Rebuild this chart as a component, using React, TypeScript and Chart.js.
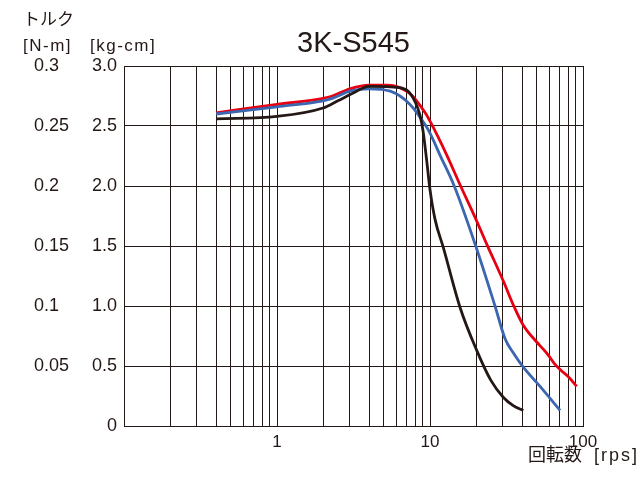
import React, { useEffect, useRef } from "react";
import { Chart, registerables } from "chart.js";

Chart.register(...registerables);

// ---------- data (torque in kg-cm vs speed in rps) ----------
const redX = [0.4, 1, 2, 2.3, 3.0, 4.0, 5.2, 6.0, 7.4, 9.3, 10, 12.85, 15.85, 20, 23.4, 30.1, 35, 40.7, 49.8, 55, 59.3, 65, 70.8, 80.2, 91];
const redY = [2.61, 2.68, 2.73, 2.75, 2.81, 2.84, 2.84, 2.83, 2.77, 2.61, 2.54, 2.26, 2.0, 1.72, 1.52, 1.21, 1.01, 0.84, 0.70, 0.64, 0.59, 0.52, 0.47, 0.41, 0.33];

const blueX = [0.4, 1, 2, 2.3, 3.0, 4.0, 5.5, 7.4, 9.3, 10, 11.6, 14.4, 19.9, 26.6, 30.9, 35, 40.7, 52.4, 70.8];
const blueY = [2.60, 2.66, 2.71, 2.73, 2.79, 2.81, 2.79, 2.68, 2.51, 2.44, 2.26, 2.0, 1.5, 1.0, 0.73, 0.61, 0.49, 0.33, 0.13];

const blackX = [0.4, 1, 2, 2.5, 3.1, 4.0, 6.3, 7.2, 8.0, 8.6, 9.0, 9.5, 10, 10.8, 12.2, 15.7, 20.2, 25, 30.1, 35, 40.7];
const blackY = [2.56, 2.58, 2.65, 2.71, 2.77, 2.83, 2.82, 2.79, 2.70, 2.59, 2.46, 2.22, 1.97, 1.72, 1.49, 0.99, 0.63, 0.38, 0.24, 0.17, 0.13];

// ---------- axes ----------
const xDecades = [0.1, 1, 10];
const xMultipliers = [1, 2, 3, 4, 5, 6, 7, 8, 9];
const xMax = 100;
const xTickLabels: Record<string, string> = { "1": "1", "10": "10", "100": "100" };

const yTickValues = [0, 0.5, 1.0, 1.5, 2.0, 2.5, 3.0];
const kgTickLabels = ["0", "0.5", "1.0", "1.5", "2.0", "2.5", "3.0"];
const nmTickLabels = ["", "0.05", "0.1", "0.15", "0.2", "0.25", "0.3"];

const TITLE = "3K-S545";
const Y_TITLE = "トルク";
const Y_UNIT_NM = "[N-m]";
const Y_UNIT_KG = "[kg-cm]";
const X_TITLE_JA = "回転数";
const X_TITLE_UNIT = "[rps]";

const FONT = "'Liberation Sans', 'Noto Sans CJK JP', sans-serif";
const INK = "#231815";
const RED = "#e60012";
const BLUE = "#3b66b0";
const BLACK = "#231815";

const xGridTicks: number[] = [];
xDecades.forEach((d) => xMultipliers.forEach((m) => xGridTicks.push(Math.round(d * m * 1000) / 1000)));
xGridTicks.push(xMax);

const toPoints = (xs: number[], ys: number[]) => xs.map((x, i) => ({ x, y: ys[i] }));

const textPlugin = {
  id: "extraText",
  afterDraw(chart: any) {
    const ctx = chart.ctx;
    const area = chart.chartArea;
    ctx.save();
    ctx.fillStyle = INK;
    ctx.textAlign = "center";
    ctx.textBaseline = "middle";
    ctx.font = `29px ${FONT}`;
    ctx.fillText(TITLE, (area.left + area.right) / 2, 44);
    ctx.textAlign = "left";
    ctx.font = `17px ${FONT}`;
    ctx.fillText(Y_TITLE, 23, 20);
    (ctx as any).letterSpacing = "1.5px";
    ctx.fillText(Y_UNIT_NM, 23, 46);
    ctx.fillText(Y_UNIT_KG, 90, 46);
    ctx.textAlign = "right";
    ctx.font = `18px ${FONT}`;
    (ctx as any).letterSpacing = "2px";
    ctx.fillText(X_TITLE_UNIT, 639, 456);
    (ctx as any).letterSpacing = "0px";
    ctx.fillText(X_TITLE_JA, 582, 456);
    ctx.restore();
  },
};

export default function App() {
  const ref = useRef<HTMLCanvasElement>(null);

  useEffect(() => {
    if (!ref.current) return;
    const lineDs = (label: string, xs: number[], ys: number[], color: string) => ({
      label,
      data: toPoints(xs, ys),
      borderColor: color,
      backgroundColor: color,
      borderWidth: 2.8,
      pointRadius: 0,
      fill: false,
      cubicInterpolationMode: "monotone" as const,
      yAxisID: "y",
    });
    const chart = new Chart(ref.current, {
      type: "line",
      data: {
        datasets: [
          lineDs("black", blackX, blackY, BLACK),
          lineDs("blue", blueX, blueY, BLUE),
          lineDs("red", redX, redY, RED),
        ],
      },
      options: {
        animation: false,
        responsive: false,
        maintainAspectRatio: false,
        layout: { padding: { left: 34, top: 66, right: 56, bottom: 0 } },
        plugins: {
          legend: { display: false },
          title: { display: false },
          tooltip: { enabled: false },
        },
        scales: {
          x: {
            type: "logarithmic",
            position: "bottom",
            min: 0.1,
            max: xMax,
            afterBuildTicks: (s: any) => {
              s.ticks = xGridTicks.map((v) => ({ value: v }));
            },
            afterFit: (s: any) => {
              s.height = 56;
            },
            grid: { color: INK, lineWidth: 1, drawTicks: false },
            border: { display: true, color: INK, width: 1 },
            ticks: {
              autoSkip: false,
              maxRotation: 0,
              minRotation: 0,
              padding: 6,
              color: INK,
              font: { family: FONT, size: 17 },
              callback: (v: any) => xTickLabels[String(v)] ?? "",
            },
          },
          y: {
            type: "linear",
            position: "left",
            weight: 0,
            min: 0,
            max: 3,
            afterBuildTicks: (s: any) => {
              s.ticks = yTickValues.map((v) => ({ value: v }));
            },
            afterFit: (s: any) => {
              s.width = 40;
            },
            grid: { color: INK, lineWidth: 1, drawTicks: false },
            border: { display: true, color: INK, width: 1 },
            ticks: {
              padding: 7,
              color: INK,
              font: { family: FONT, size: 18 },
              callback: (_v: any, i: number) => kgTickLabels[i],
            },
          },
          yNm: {
            type: "linear",
            position: "left",
            weight: 1,
            min: 0,
            max: 3,
            afterBuildTicks: (s: any) => {
              s.ticks = yTickValues.map((v) => ({ value: v }));
            },
            afterFit: (s: any) => {
              s.width = 50;
            },
            grid: { display: false, drawTicks: false },
            border: { display: false },
            ticks: {
              padding: 0,
              crossAlign: "far",
              color: INK,
              font: { family: FONT, size: 18 },
              callback: (_v: any, i: number) => nmTickLabels[i],
            },
          },
        },
      } as any,
      plugins: [textPlugin],
    });
    return () => chart.destroy();
  }, []);

  return (
    <div style={{ position: "fixed", left: 0, top: 0, width: 639, height: 482, background: "#fff" }}>
      <canvas ref={ref} width={639} height={482} style={{ display: "block" }} />
    </div>
  );
}
